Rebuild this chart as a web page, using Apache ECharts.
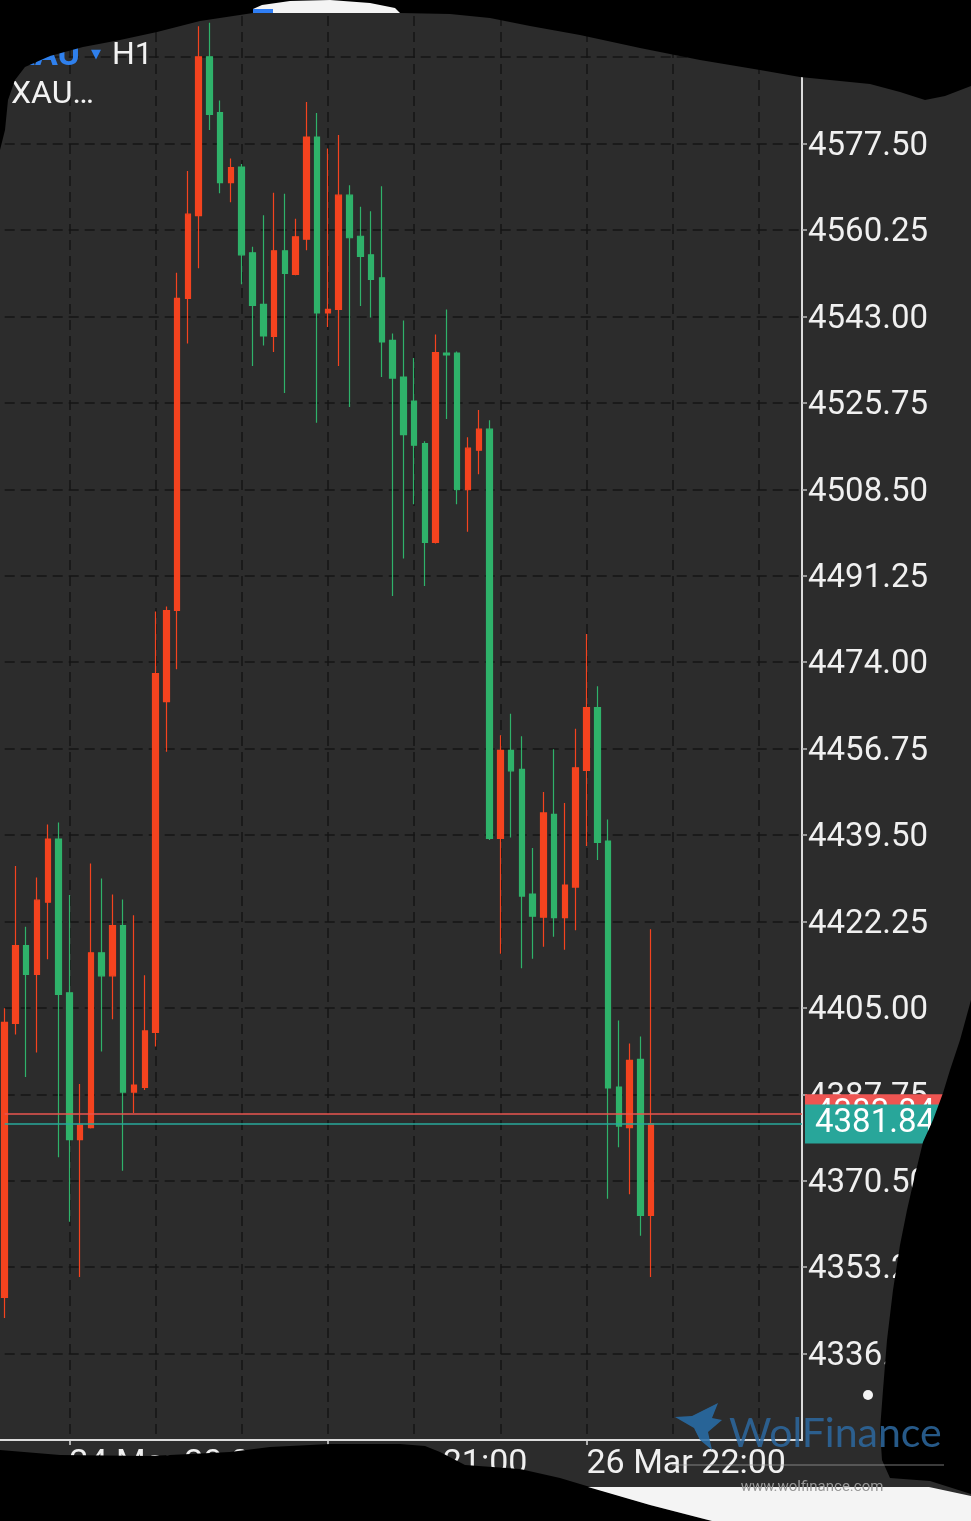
<!DOCTYPE html>
<html><head><meta charset="utf-8">
<script src="https://cdn.jsdelivr.net/npm/echarts@6/dist/echarts.min.js"></script>
<style>html,body{margin:0;padding:0;background:#000;}#c{width:971px;height:1521px;}</style>
</head><body><div id="c"></div><script>
// ---- data (XAU H1, prices) ----
const dayHours = [
  ['24 Mar', [14,15,16,17,18,19,20,21,22,23]],
  ['25 Mar', [1,2,3,4,5,6,7,8,9,10,11,12,13,14,15,16,17,18,19,20,21,22,23]],
  ['26 Mar', [1,2,3,4,5,6,7,8,9,10,11,12,13,14,15,16,17,18,19,20,21,22,23]],
  ['27 Mar', [1,2,3,4,5,6,7,8,9,10,11,12,13,14,15,16,17,18,19]]
];
const categories = [];
dayHours.forEach(([d, hs]) => hs.forEach(h => categories.push(d + ' ' + String(h).padStart(2,'0') + ':00')));
const labelIdx = [6, 30, 54];

const opens = [4347.2,4401.9,4417.4,4411.7,4426.1,4438.7,4408.0,4378.7,4381.1,4416.0,
  4411.4,4421.4,4388.2,4389.1,4400.1,4466.1,4484.3,4546.6,4563.1,4594.8,
  4583.7,4569.7,4572.8,4555.7,4545.4,4539.0,4556.1,4551.4,4558.4,4578.8,
  4543.7,4544.4,4567.2,4559.0,4555.3,4550.7,4538.2,4530.9,4526.1,4517.6,
  4497.9,4535.7,4535.7,4508.4,4516.3,4520.5,4438.8,4456.4,4452.6,4427.7,
  4423.1,4443.6,4423.0,4429.1,4452.4,4464.9,4438.3,4389.2,4381.1,4394.7,4363.6];
const closes = [4402.1,4417.4,4411.7,4426.5,4438.7,4407.7,4378.7,4381.6,4416.0,4411.4,
  4421.4,4388.2,4389.6,4400.4,4471.7,4484.3,4546.6,4563.4,4594.8,4583.3,
  4569.7,4572.7,4555.3,4545.2,4539.1,4556.1,4551.6,4558.9,4578.8,4543.7,
  4544.4,4567.2,4558.7,4555.0,4550.4,4537.9,4530.7,4519.4,4517.3,4497.9,
  4535.8,4535.3,4508.4,4516.7,4520.5,4438.8,4456.4,4452.3,4427.3,4423.3,
  4443.9,4423.0,4429.5,4452.9,4464.9,4438.0,4389.0,4381.4,4394.5,4363.6,4381.84];
const lows = [4343.1,4399.7,4391.2,4396.1,4414.7,4375.2,4362.3,4351.3,4380.9,4396.3,
  4402.7,4372.5,4384.0,4388.6,4397.3,4456.1,4472.6,4537.6,4552.6,4580.2,
  4567.6,4565.8,4549.4,4533.1,4537.2,4535.9,4527.7,4551.2,4556.2,4521.8,
  4540.9,4533.1,4524.9,4545.1,4542.8,4530.9,4487.2,4494.7,4505.5,4489.2,
  4497.7,4522.5,4505.5,4500.0,4511.5,4438.5,4415.8,4439.0,4412.9,4414.8,
  4417.2,4419.2,4416.6,4420.5,4437.3,4434.5,4366.9,4377.2,4367.8,4359.5,4351.3];
const highs = [4404.9,4433.3,4421.2,4431.0,4441.6,4442.0,4427.5,4389.8,4433.8,4430.8,
  4427.6,4426.6,4423.5,4411.5,4484.1,4485.1,4551.7,4572.0,4600.9,4601.6,
  4586.1,4574.5,4573.4,4556.9,4563.2,4567.7,4567.5,4562.5,4585.8,4583.6,
  4576.5,4579.2,4569.2,4564.9,4564.0,4569.0,4539.6,4542.2,4534.7,4518.1,
  4539.4,4544.4,4536.0,4518.9,4524.3,4522.3,4459.4,4463.7,4459.2,4436.9,
  4448.1,4456.6,4445.9,4460.7,4479.6,4469.2,4442.6,4402.5,4397.9,4399.3,4420.7];
const bidPrice = 4381.84;
const askPrice = 4383.84;
const yMin = 4318.75, yMax = 4606.15, yStep = 17.25;

const candles = opens.map((o, i) => [o, closes[i], lows[i], highs[i]]);

const UP = '#f4431f', DOWN = '#2fb26a';
const FONT = 'Roboto';

const chart = echarts.init(document.getElementById('c'), null, {renderer: 'canvas'});
chart.setOption({
  animation: false,
  backgroundColor: '#2c2c2c',
  grid: {left: 4.7, right: 169, top: 0, bottom: 81, containLabel: false},
  xAxis: {
    type: 'category', data: categories, boundaryGap: false,
    axisLine: {show: true, lineStyle: {color: '#dcdcdc', width: 2}},
    axisTick: {show: true, interval: (i) => labelIdx.includes(i), length: 5, lineStyle: {color: '#dcdcdc', width: 1.5}},
    axisLabel: {interval: (i) => labelIdx.includes(i), align: 'left', margin: 7,
      color: '#f0f0f0', fontSize: 34, fontFamily: FONT},
    splitLine: {show: true, interval: (i) => (i - 6) % 8 === 0,
      lineStyle: {color: '#151515', width: 1.5, type: [10, 6]}}
  },
  yAxis: {
    type: 'value', position: 'right', min: yMin, max: yMax, interval: yStep, scale: true,
    axisLine: {show: true, lineStyle: {color: '#dcdcdc', width: 2}},
    axisTick: {show: true, inside: false, length: 5, lineStyle: {color: '#bdbdbd', width: 1.5}},
    axisLabel: {margin: 6, color: '#f0f0f0', fontSize: 33, fontFamily: FONT,
      showMinLabel: false, showMaxLabel: false,
      formatter: (v) => '{p|' + v.toFixed(2) + '}',
      rich: {p: {color: '#f0f0f0', fontSize: 33, fontFamily: FONT, padding: [6, 0, 0, 0]}}},
    splitLine: {show: true, lineStyle: {color: '#151515', width: 1.5, type: [10, 6]}}
  },
  series: [{
    type: 'candlestick', data: candles, clip: false, barWidth: 6,
    itemStyle: {color: UP, color0: DOWN, borderColor: UP, borderColor0: DOWN, borderWidth: 1.2},
    markLine: {
      silent: true, symbol: ['none', 'none'], animation: false,
      data: [
        {yAxis: askPrice, lineStyle: {color: '#e8554f', width: 1.5, type: 'solid'},
          label: {show: true, position: 'end', distance: 3, formatter: askPrice.toFixed(2),
            backgroundColor: '#ee5552', color: '#ffffff', fontSize: 33, fontFamily: FONT,
            padding: [3, 10, 0, 10], width: 130, height: 36, lineHeight: 36, align: 'left'}},
        {yAxis: bidPrice, lineStyle: {color: '#27a99b', width: 1.5, type: 'solid'},
          label: {show: true, position: 'end', distance: 3, formatter: bidPrice.toFixed(2),
            backgroundColor: '#28a69a', color: '#ffffff', fontSize: 33, fontFamily: FONT,
            padding: [3, 10, 0, 10], width: 130, height: 36, lineHeight: 36, align: 'left'}}
      ]
    }
  }],
  graphic: [
    // title texts
    {type: 'text', z: 50, style: {text: 'XAU', x: 80, y: 56, fill: '#2f80ed', font: 'bold 34px Roboto', textAlign: 'right', textVerticalAlign: 'middle'}},
    {type: 'text', z: 50, style: {text: '▼', x: 96, y: 55, fill: '#2f80ed', font: '13px "DejaVu Sans"', textAlign: 'center', textVerticalAlign: 'middle'}},
    {type: 'text', z: 50, style: {text: 'H1', x: 112, y: 56, fill: '#f2f2f2', font: '32px Roboto', textAlign: 'left', textVerticalAlign: 'middle'}},
    {type: 'text', z: 50, style: {text: 'XAU…', x: 11, y: 95, fill: '#f2f2f2', font: '32px Roboto', textAlign: 'left', textVerticalAlign: 'middle'}},
    // left stub of the bottom axis line
    {type: 'line', z: 20, silent: true, shape: {x1: 0, y1: 1440, x2: 6, y2: 1440}, style: {stroke: '#dcdcdc', lineWidth: 2}},
    // torn paper edges
    {type: 'polygon', z: 100, silent: true, shape: {points: [[0,0],[971,0],[971,86],[945,96],[925,100],[900,92],[870,84],[830,80],[800,77],[760,70],[700,60],[640,48],[580,35],[530,26],[490,18],[450,14],[400,13],[253,13],[200,21],[157,32],[120,40],[83,47],[50,56],[25,67],[15,80],[8,100],[5,130],[0,150]]}, style: {fill: '#000'}},
    {type: 'polygon', z: 101, silent: true, shape: {points: [[253,13],[400,13],[395,8],[370,3],[330,0],[290,1],[262,5],[253,9]]}, style: {fill: '#f4f4f4'}},
    {type: 'rect', z: 102, silent: true, shape: {x: 253, y: 9, width: 20, height: 4}, style: {fill: '#2f7ef5'}},
    {type: 'polygon', z: 100, silent: true, shape: {points: [[971,1000],[960,1040],[950,1070],[943,1093],[933,1120],[923,1142],[915,1175],[907,1210],[900,1245],[893,1290],[887,1340],[883,1390],[880,1430],[882,1460],[890,1478],[930,1481],[971,1494]]}, style: {fill: '#000'}},
    {type: 'polygon', z: 100, silent: true, shape: {points: [[0,1450],[60,1455],[150,1456],[230,1452],[270,1447],[330,1444],[400,1444],[425,1446],[440,1452],[465,1465],[520,1469],[560,1478],[590,1487],[650,1505],[712,1521],[0,1521]]}, style: {fill: '#000'}},
    {type: 'polygon', z: 100, silent: true, shape: {points: [[588,1487],[929,1487],[971,1496],[971,1521],[712,1521],[650,1505]]}, style: {fill: '#f4f4f4'}},
    {type: 'circle', z: 105, silent: true, shape: {cx: 868, cy: 1395, r: 5}, style: {fill: '#f4f4f4'}},
    // watermark
    {type: 'polygon', z: 110, silent: true, shape: {points: [[718,1403],[712,1418],[722,1420],[708,1432],[712,1450],[700,1440],[694,1428],[675,1417],[692,1416],[704,1410]]}, style: {fill: 'rgba(40,110,170,0.85)'}},
    {type: 'text', z: 110, silent: true, style: {text: 'WolFinance', x: 729, y: 1434, fill: 'rgba(45,105,160,0.85)', font: '41px Lato', textAlign: 'left', textVerticalAlign: 'middle'}},
    {type: 'line', z: 110, silent: true, shape: {x1: 672, y1: 1465, x2: 944, y2: 1465}, style: {stroke: 'rgba(170,170,170,0.7)', lineWidth: 1}},
    {type: 'text', z: 110, silent: true, style: {text: 'www.wolfinance.com', x: 812, y: 1487, fill: '#9a9a9a', font: '15px Roboto', textAlign: 'center', textVerticalAlign: 'middle'}}
  ]
});
</script></body></html>
